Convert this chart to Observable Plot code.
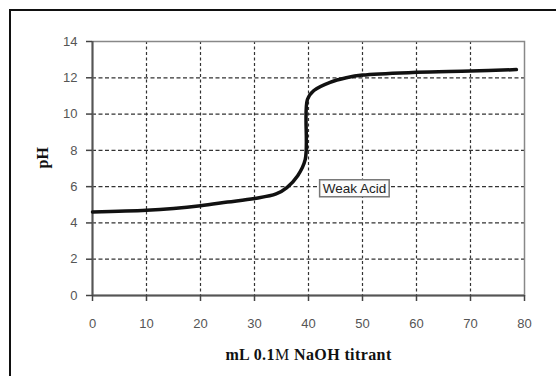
<!DOCTYPE html>
<html>
<head>
<meta charset="utf-8">
<script src="https://cdn.jsdelivr.net/npm/d3@7"></script>
<script src="https://cdn.jsdelivr.net/npm/@observablehq/plot@0.6"></script>
<style>
  html, body { margin: 0; padding: 0; background: #fff; }
  #wrap { position: relative; width: 556px; height: 376px; overflow: hidden; }
  #border { position: absolute; left: 9px; top: 9px; width: 600px; height: 400px;
            border-left: 2px solid #111; border-top: 2px solid #111; }
  #chart { position: absolute; left: 0; top: 0; }
</style>
</head>
<body>
<div id="wrap"><div id="border"></div><div id="chart"></div></div>
<script>
// NaOH titrant volume (mL) and measured pH
const volume = [0, 10, 15, 20, 25, 30, 34, 36, 38, 39.4, 39.8, 41, 44, 47, 50, 60, 70, 78.5];
const pH     = [4.6, 4.7, 4.8, 4.95, 5.15, 5.35, 5.6, 5.95, 6.6, 7.5, 10.8, 11.3, 11.75, 12.0, 12.15, 12.3, 12.37, 12.45];
const xTicks = [0, 10, 20, 30, 40, 50, 60, 70, 80];
const yTicks = [0, 2, 4, 6, 8, 10, 12, 14];
const seriesLabel = "Weak Acid";
const labelPos = [{x: 48.5, y: 5.9, text: seriesLabel}];
const xTitle = "mL 0.1M NaOH titrant";
const yTitle = "pH";

const data = volume.map((v, i) => ({v, p: pH[i]}));

const chart = Plot.plot({
  width: 556,
  height: 376,
  marginLeft: 92,
  marginRight: 32,
  marginTop: 41,
  marginBottom: 81,
  style: {fontFamily: "Liberation Sans, Arial, sans-serif", fontSize: "13px", color: "#222", background: "transparent"},
  x: {domain: [0, 80]},
  y: {domain: [0, 14]},
  marks: [
    Plot.gridX(xTicks.filter(d => d > 0 && d < 80), {stroke: "#333", strokeOpacity: 1, strokeDasharray: "3,2.5", strokeWidth: 1.2}),
    Plot.gridY(yTicks.filter(d => d > 0 && d < 14), {stroke: "#333", strokeOpacity: 1, strokeDasharray: "4,2.5", strokeWidth: 1.2}),
    Plot.frame({stroke: "#888", strokeWidth: 1.5}),
    Plot.ruleX([0], {stroke: "#555", strokeWidth: 2}),
    Plot.ruleY([0], {stroke: "#555", strokeWidth: 2}),
    Plot.axisX({ticks: xTicks, tickSize: 6, tickPadding: 17, label: null, stroke: "#444", strokeWidth: 1.5, fill: "#555", fontSize: 13}),
    Plot.axisY({ticks: yTicks, tickSize: 6, tickPadding: 9, label: null, stroke: "#444", strokeWidth: 1.5, fill: "#555", fontSize: 13}),
    Plot.line(data, {x: "v", y: "p", stroke: "#111", strokeWidth: 3.5, curve: "catmull-rom"}),
    Plot.text(labelPos, {x: "x", y: "y", text: "text", fill: "#222", fontSize: 13.5, stroke: null}),
    Plot.text([yTitle], {frameAnchor: "left", dx: -50, rotate: -90, fontFamily: "Liberation Serif, serif", fontWeight: "bold", fontSize: 16, fill: "#111"}),
    Plot.text([xTitle], {frameAnchor: "bottom", lineAnchor: "middle", dy: 59, fontFamily: "Liberation Serif, serif", fontWeight: "bold", fontSize: 16, fill: "#111"})
  ]
});

document.getElementById("chart").appendChild(chart);

// Box around the series label, and non-bold "M" in the x title
const ns = "http://www.w3.org/2000/svg";
chart.querySelectorAll("text").forEach(node => {
  const txt = node.textContent;
  if (txt === seriesLabel) {
    const b = node.getBBox();
    const r = document.createElementNS(ns, "rect");
    r.setAttribute("x", b.x - 3);
    r.setAttribute("y", b.y - 1);
    r.setAttribute("width", b.width + 6);
    r.setAttribute("height", b.height + 2);
    r.setAttribute("fill", "#fbfbfb");
    r.setAttribute("stroke", "#777");
    r.setAttribute("stroke-width", 1.5);
    const tr = node.getAttribute("transform");
    if (tr) r.setAttribute("transform", tr);
    node.parentNode.insertBefore(r, node);
  } else if (txt === xTitle) {
    const t = d3.select(node);
    t.text(null);
    t.attr("letter-spacing", "0.4px");
    t.append("tspan").text("mL 0.1");
    t.append("tspan").attr("font-weight", "normal").text("M");
    t.append("tspan").text(" NaOH titrant");
  }
});
</script>
</body>
</html>
